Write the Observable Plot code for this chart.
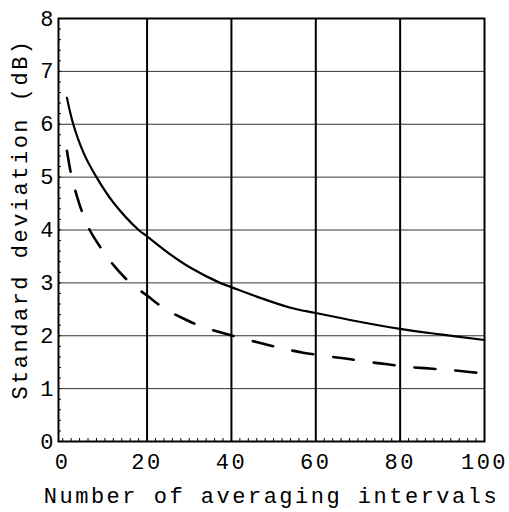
<!DOCTYPE html>
<html>
<head>
<meta charset="utf-8">
<script src="https://cdn.jsdelivr.net/npm/d3@7"></script>
<script src="https://cdn.jsdelivr.net/npm/@observablehq/plot@0.6"></script>
<style>
  html, body { margin: 0; padding: 0; background: #fff; }
  g[aria-label="x-axis tick label"] text { letter-spacing: 2.5px; }
  g[aria-label="text"] text { letter-spacing: 2.5px; }
</style>
</head>
<body>
<div id="chart"></div>
<script>
const xTicks = [0, 20, 40, 60, 80, 100];
const yTicks = [0, 1, 2, 3, 4, 5, 6, 7, 8];
const xLabel = "Number of averaging intervals";
const yLabel = "Standard deviation (dB)";

const solidX = [1, 2.5, 5, 8, 12, 18, 20, 25.5, 30, 37.3, 40, 46, 54, 60, 70, 80, 90, 100];
const solidY = [6.5, 6.0, 5.45, 5.0, 4.52, 4.0, 3.88, 3.54, 3.3, 3.0, 2.92, 2.74, 2.53, 2.43, 2.27, 2.13, 2.02, 1.92];

const dashedX = [1, 2, 3, 4.6, 6.4, 9.4, 12.2, 16, 20, 24, 28, 33, 38, 43, 48, 52, 57, 63, 67, 72, 77, 82, 87, 92, 97, 100];
const dashedY = [5.5, 5.05, 4.74, 4.34, 4.0, 3.62, 3.32, 3.0, 2.76, 2.52, 2.35, 2.17, 2.05, 1.94, 1.84, 1.76, 1.68, 1.61, 1.57, 1.51, 1.46, 1.41, 1.38, 1.35, 1.31, 1.29];

const solid = solidX.map((x, i) => ({x, y: solidY[i]}));
const dashed = dashedX.map((x, i) => ({x, y: dashedY[i]}));

const hGrid = [1, 2, 3, 4, 5, 6, 7];
const vGrid = [20, 40, 60, 80];
const yMinor = d3.range(0, 8.001, 0.2);
const xMinor = d3.range(0, 100.001, 2);

const font = "'Liberation Mono', 'DejaVu Sans Mono', monospace";

const chart = Plot.plot({
  width: 509,
  height: 512,
  marginLeft: 58,
  marginRight: 25,
  marginTop: 18,
  marginBottom: 71,
  style: {fontFamily: font, fontSize: "22px", color: "#000", background: "#fff"},
  x: {domain: [-1, 100]},
  y: {domain: [0, 8]},
  marks: [
    Plot.ruleY(hGrid, {stroke: "#333", strokeWidth: 1}),
    Plot.ruleX(vGrid, {stroke: "#000", strokeWidth: 2}),
    Plot.axisY(yMinor, {tickSize: -3, text: null, label: null, stroke: "#000"}),
    Plot.axisX(xMinor, {tickSize: -3, text: null, label: null, stroke: "#000"}),
    Plot.axisY(yTicks, {tickSize: 0, tickPadding: 5, fontSize: 22, label: null, tickFormat: d => String(d)}),
    Plot.axisX(xTicks, {tickSize: 0, tickPadding: 12, fontSize: 22, label: null, tickFormat: d => String(d)}),
    Plot.text([yLabel], {frameAnchor: "left", rotate: -90, dx: -39, dy: -11, textAnchor: "middle", lineAnchor: "middle", fontSize: 22, fill: "#000"}),
    Plot.text([xLabel], {frameAnchor: "bottom", dy: 54, textAnchor: "middle", lineAnchor: "middle", fontSize: 22, fill: "#000"}),
    Plot.frame({stroke: "#000", strokeWidth: 2}),
    Plot.line(solid, {x: "x", y: "y", stroke: "#000", strokeWidth: 2.2, curve: "catmull-rom"}),
    Plot.line(dashed, {x: "x", y: "y", stroke: "#000", strokeWidth: 2.6, strokeDasharray: "21,20", curve: "catmull-rom"})
  ]
});
document.getElementById("chart").appendChild(chart);
</script>
</body>
</html>
